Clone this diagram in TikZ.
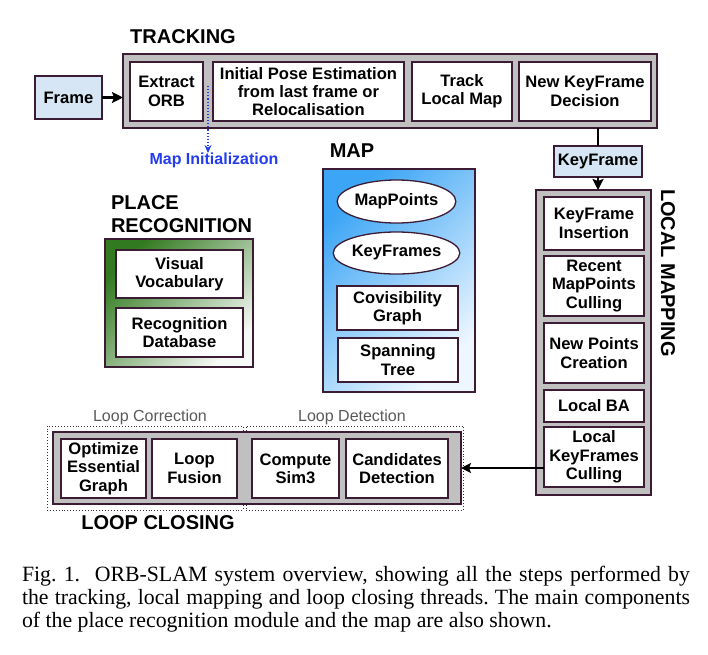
\documentclass[tikz,border=0pt]{standalone}
\usepackage{fontspec}
\setmainfont{Liberation Serif}
\newfontfamily\sansf{Liberation Sans}
\usetikzlibrary{arrows.meta,shapes.geometric}
\definecolor{bord}{RGB}{60,28,52}
\definecolor{grayfill}{RGB}{192,192,192}
\definecolor{lblue}{RGB}{214,230,244}
\definecolor{mapdark}{RGB}{60,165,245}
\definecolor{maplight}{RGB}{238,247,255}
\definecolor{grdark}{RGB}{50,122,32}
\definecolor{grlight}{RGB}{246,249,245}
\definecolor{miblue}{RGB}{35,60,240}
\definecolor{lgray}{RGB}{90,90,90}
\frenchspacing
\begin{document}
\begin{tikzpicture}[x=1pt,y=-1pt,
  every node/.style={inner sep=0pt, outer sep=0pt},
  outerbox/.style={draw=bord, line width=1.8pt, fill=grayfill},
  stepbox/.style={draw=bord, line width=1.3pt, fill=white, align=center,
    font=\sansf\bfseries\fontsize{16.6}{18.4}\selectfont},
  bluebox/.style={stepbox, fill=lblue},
  ellbox/.style={stepbox, ellipse},
  titlelab/.style={font=\sansf\bfseries\fontsize{20}{23}\selectfont, align=left},
  sublab/.style={font=\sansf\fontsize{16}{18}\selectfont, text=lgray},
  dotbox/.style={draw=black!80, dotted, line width=0.9pt},
  bigarrow/.style={line width=2.6pt, -{Stealth[length=11pt,width=11pt,inset=2pt]}},
]
\fill[white] (0,0) rectangle (708,654);
\useasboundingbox (0,0) rectangle (708,654);

% ---------- TRACKING ----------
\node[titlelab] (trt) at (183,37) {TRACKING};
\node[bluebox, minimum width=67pt, minimum height=43pt] (frame) at (68.5,97.5) {Frame};
\node[outerbox, minimum width=534pt, minimum height=74pt] (track) at (390,91) {};
\node[stepbox, minimum width=73pt, minimum height=59pt] (orb) at (166.5,91.5) {Extract\\ORB};
\node[stepbox, minimum width=191pt, minimum height=59pt] (ipe) at (308.5,91.5) {Initial Pose Estimation\\from last frame or\\Relocalisation};
\node[stepbox, minimum width=100pt, minimum height=59pt] (tlm) at (462,91.5) {Track\\Local Map};
\node[stepbox, minimum width=132pt, minimum height=59pt] (nkd) at (585,91.5) {New KeyFrame\\Decision};
\draw[bigarrow] (frame.east) -- (frame.east -| track.west);

% Map initialization
\coordinate (mi0) at (208,86);
\node[font=\sansf\bfseries\fontsize{16}{18}\selectfont, text=miblue] (mi) at (214,160.5) {Map Initialization};
\draw[miblue, dotted, line width=1.1pt, -{Stealth[length=8pt,width=7pt]}] (mi0) -- (mi0 |- mi.north);

% KeyFrame
\node[bluebox, minimum width=88pt, minimum height=31pt] (kf) at (598,161.5) {KeyFrame};
\draw[line width=2.8pt] (kf.north |- track.south) -- (kf.north);

% ---------- LOCAL MAPPING ----------
\node[outerbox, minimum width=115pt, minimum height=305pt] (lm) at (593.5,342.5) {};
\draw[bigarrow] (kf.south) -- (kf.south |- lm.north);
\node[stepbox, minimum width=100pt, minimum height=53pt] (kfi) at (594,223.5) {KeyFrame\\Insertion};
\node[stepbox, minimum width=100pt, minimum height=60pt] (rmc) at (594,286) {Recent\\MapPoints\\Culling};
\node[stepbox, minimum width=100pt, minimum height=60pt] (npc) at (594,353) {New Points\\Creation};
\node[stepbox, minimum width=100pt, minimum height=32pt] (lba) at (594,406) {Local BA};
\node[stepbox, minimum width=100pt, minimum height=60pt] (lkc) at (594,457) {Local\\KeyFrames\\Culling};
\node[titlelab, rotate=-90] (lmt) at (668,273) {LOCAL MAPPING};

% ---------- MAP ----------
\node[titlelab] (mapt) at (352,151) {MAP};
\node[draw=bord, line width=1.3pt, top color=mapdark, bottom color=maplight, shading angle=45,
      minimum width=152pt, minimum height=223pt] (map) at (399,280.5) {};
\node[ellbox, minimum width=115pt, minimum height=43pt] (mp) at (396.5,201.5) {MapPoints};
\node[ellbox, minimum width=115pt, minimum height=42pt] (kfs) at (396.5,253) {KeyFrames};
\node[stepbox, minimum width=121pt, minimum height=44pt] (cov) at (397.5,308) {Covisibility\\Graph};
\node[stepbox, minimum width=120pt, minimum height=44pt] (span) at (398,360) {Spanning\\Tree};

% ---------- PLACE RECOGNITION ----------
\node[titlelab, anchor=west] (prt) at (111,214) {PLACE\\RECOGNITION};
\node[draw=bord, line width=1.3pt, top color=grdark, bottom color=grlight, shading angle=45,
      minimum width=148pt, minimum height=128pt] (pr) at (179,303) {};
\node[stepbox, minimum width=127pt, minimum height=48pt] (vv) at (179.5,274) {Visual\\Vocabulary};
\node[stepbox, minimum width=127pt, minimum height=49pt] (rd) at (179.5,332.5) {Recognition\\Database};

% ---------- LOOP CLOSING ----------
\node[dotbox, minimum width=196pt, minimum height=84pt] (lcor) at (145,468) {};
\node[dotbox, minimum width=217pt, minimum height=84pt] (ldet) at (354.5,468) {};
\node[outerbox, minimum width=408pt, minimum height=72pt] (lc) at (257,468) {};
\node[stepbox, minimum width=85pt, minimum height=59pt] (oeg) at (103.5,468.5) {Optimize\\Essential\\Graph};
\node[stepbox, minimum width=85pt, minimum height=59pt] (lf) at (194.5,468.5) {Loop\\Fusion};
\node[stepbox, minimum width=87pt, minimum height=59pt] (cs) at (295.5,468.5) {Compute\\Sim3};
\node[stepbox, minimum width=102pt, minimum height=59pt] (cd) at (397,468.5) {Candidates\\Detection};
\node[sublab] (lcorl) at (150,417) {Loop Correction};
\node[sublab] (ldetl) at (352,417) {Loop Detection};
\node[titlelab] (lct) at (158,523) {LOOP CLOSING};
\draw[line width=2.6pt, -{Stealth[length=10pt,width=10pt,inset=2pt]}] (lkc.west |- lc.east) -- (lc.east);

% ---------- CAPTION ----------
\node[anchor=north west, text width=668pt, align=justify,
      font=\fontsize{21.8}{23}\selectfont] (cap) at (22,566)
 {Fig. 1.\ \ ORB-SLAM system overview, showing all the steps performed by\linebreak
  the tracking, local mapping and loop closing threads. The main components\linebreak
  of the place recognition module and the map are also shown.};
\end{tikzpicture}
\end{document}
